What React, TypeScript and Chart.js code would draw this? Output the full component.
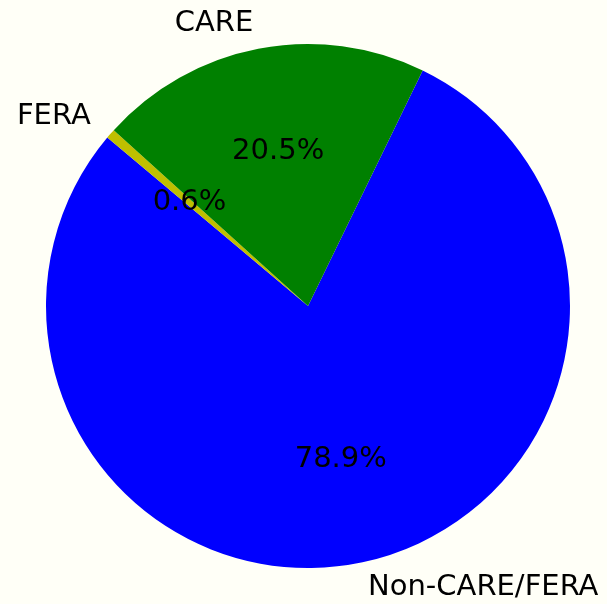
import React, { useEffect, useRef } from "react";
import { Chart, registerables } from "chart.js";

Chart.register(...registerables);

const categories: string[] = ["Non-CARE/FERA", "FERA", "CARE"];
const shares: number[] = [78.9, 0.6, 20.5];
const sliceColors: string[] = ["#0000ff", "#bfbf00", "#008000"];

const BG = "#fffff7";
const FONT = "29px 'DejaVu Sans', sans-serif";

const pieLabels = {
  id: "pieLabels",
  afterDraw(chart: any) {
    const ctx = chart.ctx as CanvasRenderingContext2D;
    const meta = chart.getDatasetMeta(0);
    const data = chart.data.datasets[0].data as number[];
    const total = data.reduce((a, b) => a + b, 0);
    ctx.save();
    ctx.font = FONT;
    ctx.fillStyle = "#000000";
    ctx.textBaseline = "middle";
    meta.data.forEach((arc: any, i: number) => {
      const { x, y, startAngle, endAngle, outerRadius } = arc.getProps(
        ["x", "y", "startAngle", "endAngle", "outerRadius"],
        true
      );
      const mid = (startAngle + endAngle) / 2;
      const c = Math.cos(mid);
      const s = Math.sin(mid);
      // outer label
      const lx = x + 1.1 * outerRadius * c;
      const ly = y + 1.1 * outerRadius * s;
      ctx.textAlign = c > 0 ? "left" : "right";
      ctx.fillText(String(chart.data.labels[i]), lx, ly);
      // percentage
      const px = x + 0.6 * outerRadius * c;
      const py = y + 0.6 * outerRadius * s;
      ctx.textAlign = "center";
      ctx.fillText(((data[i] / total) * 100).toFixed(1) + "%", px, py);
    });
    ctx.restore();
  },
};

const bgPlugin = {
  id: "bgFill",
  beforeDraw(chart: any) {
    const ctx = chart.ctx as CanvasRenderingContext2D;
    ctx.save();
    ctx.fillStyle = BG;
    ctx.fillRect(0, 0, chart.width, chart.height);
    ctx.restore();
  },
};

export default function App() {
  const ref = useRef<HTMLCanvasElement | null>(null);
  useEffect(() => {
    document.body.style.margin = "0";
    document.body.style.background = BG;
    if (!ref.current) return;
    const chart = new Chart(ref.current, {
      type: "pie",
      data: {
        labels: categories,
        datasets: [
          {
            data: shares,
            backgroundColor: sliceColors,
            borderWidth: 0,
          },
        ],
      },
      options: {
        responsive: false,
        animation: false,
        rotation: 25.96,
        layout: { padding: { left: 46, right: 37, top: 43, bottom: 35 } },
        plugins: {
          legend: { display: false },
          tooltip: { enabled: false },
        },
      },
      plugins: [bgPlugin, pieLabels],
    });
    return () => chart.destroy();
  }, []);
  return (
    <div style={{ width: 607, height: 604, background: BG }}>
      <canvas ref={ref} width={607} height={604} style={{ display: "block" }} />
    </div>
  );
}
